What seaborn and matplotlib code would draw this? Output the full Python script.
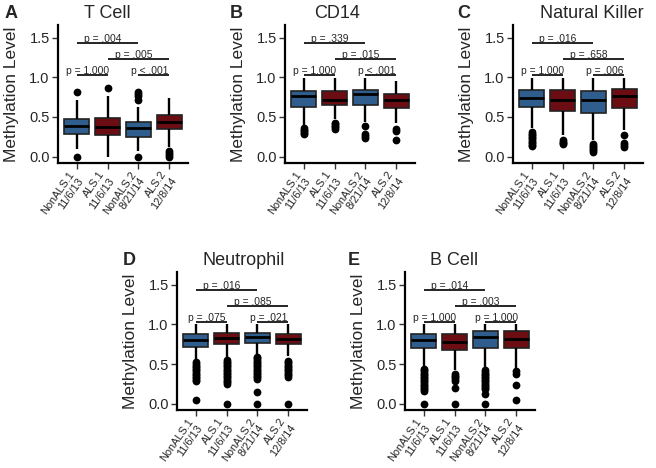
import numpy as np
import pandas as pd
import matplotlib
matplotlib.use("Agg")
import matplotlib.pyplot as plt
import seaborn as sns

# ---------------- data ----------------
groups = ["NonALS.1\n11/6/13", "ALS.1\n11/6/13", "NonALS.2\n8/21/14", "ALS.2\n12/8/14"]
group_colors = ["#2F5E8E", "#6B0D12", "#2F5E8E", "#6B0D12"]
yticks = [0.0, 0.5, 1.0, 1.5]
ytick_labels = ["0.0", "0.5", "1.0", "1.5"]

# five-number summaries per group: [whisker low, Q1, median, Q3, whisker high]
tcell_stats = [[0.10, 0.285, 0.385, 0.47, 0.72],
               [0.00, 0.27, 0.38, 0.49, 0.76],
               [0.07, 0.25, 0.355, 0.435, 0.63],
               [0.12, 0.345, 0.44, 0.52, 0.74]]
tcell_out = [[0.82, 0.0],
             [0.87],
             [0.82, 0.79, 0.76, 0.72, 0.0],
             [0.07, 0.045, 0.02, 0.0]]
tcell_p = ["p = .004", "p = .005", "p = 1.000", "p < .001"]

cd14_stats = [[0.40, 0.63, 0.76, 0.83, 0.99],
              [0.48, 0.65, 0.72, 0.825, 0.99],
              [0.44, 0.65, 0.79, 0.845, 0.99],
              [0.42, 0.61, 0.71, 0.79, 0.955]]
cd14_out = [[0.36, 0.34, 0.32, 0.30, 0.28],
            [0.43, 0.41, 0.39, 0.37, 0.35],
            [0.39, 0.29, 0.26, 0.23],
            [0.35, 0.32, 0.21]]
cd14_p = ["p = .339", "p = .015", "p = 1.000", "p < .001"]

nk_stats = [[0.355, 0.62, 0.745, 0.84, 0.99],
            [0.27, 0.58, 0.71, 0.84, 0.99],
            [0.21, 0.555, 0.71, 0.825, 0.99],
            [0.335, 0.615, 0.76, 0.85, 0.99]]
nk_out = [[0.31, 0.29, 0.27, 0.25, 0.23, 0.21, 0.19, 0.17, 0.15, 0.13],
          [0.21, 0.19, 0.17, 0.155],
          [0.16, 0.14, 0.12, 0.10, 0.08, 0.06],
          [0.27, 0.17, 0.15, 0.12]]
nk_p = ["p = .016", "p = .658", "p = 1.000", "p = .006"]

neut_stats = [[0.545, 0.72, 0.805, 0.88, 1.0],
              [0.585, 0.755, 0.825, 0.89, 1.0],
              [0.63, 0.76, 0.84, 0.89, 1.0],
              [0.595, 0.75, 0.815, 0.88, 1.0]]
neut_out = [[0.52, 0.50, 0.48, 0.46, 0.44, 0.42, 0.40, 0.38, 0.36, 0.34, 0.32, 0.30, 0.28, 0.04],
            [0.55, 0.53, 0.51, 0.49, 0.47, 0.45, 0.43, 0.41, 0.39, 0.37, 0.35, 0.33, 0.31, 0.29, 0.27, 0.25, 0.0],
            [0.59, 0.57, 0.55, 0.53, 0.51, 0.49, 0.47, 0.45, 0.43, 0.41, 0.39, 0.37, 0.35, 0.33, 0.31, 0.145, 0.0],
            [0.54, 0.52, 0.50, 0.48, 0.46, 0.44, 0.42, 0.40, 0.38, 0.36, 0.34, 0.0]]
neut_p = ["p = .016", "p = .085", "p = .075", "p = .021"]

bcell_stats = [[0.48, 0.70, 0.805, 0.88, 1.0],
               [0.42, 0.68, 0.775, 0.88, 1.0],
               [0.46, 0.70, 0.84, 0.91, 1.0],
               [0.45, 0.70, 0.815, 0.915, 1.0]]
bcell_out = [[0.44, 0.42, 0.40, 0.38, 0.36, 0.34, 0.32, 0.30, 0.28, 0.26, 0.24, 0.22, 0.20, 0.18, 0.16, 0.0],
             [0.37, 0.35, 0.33, 0.31, 0.29, 0.20, 0.0],
             [0.42, 0.40, 0.38, 0.36, 0.34, 0.32, 0.30, 0.28, 0.26, 0.24, 0.22, 0.20, 0.18, 0.125, 0.0],
             [0.41, 0.38, 0.24, 0.05]]
bcell_p = ["p = .014", "p = .003", "p = 1.000", "p = 1.000"]

# comparisons: (group i, group j, bracket level)
comparisons = [(0, 2, 1.43), (1, 3, 1.23), (0, 1, 1.03), (2, 3, 1.03)]

# ---------------- style ----------------
sns.set_style("ticks")
plt.rcParams["font.family"] = ["Liberation Sans", "DejaVu Sans"]

W, H = 656, 468
fig = plt.figure(figsize=(W / 100, H / 100), dpi=100)


def rect(l, t, w, h):
    return [l / W, 1 - (t + h) / H, w / W, h / H]


panels = [
    dict(letter="A", title="T Cell", stats=tcell_stats, out=tcell_out, p=tcell_p,
         box=(58, 25), lx=5, tx=107, base=18),
    dict(letter="B", title="CD14", stats=cd14_stats, out=cd14_out, p=cd14_p,
         box=(285, 25), lx=230, tx=337, base=18),
    dict(letter="C", title="Natural Killer", stats=nk_stats, out=nk_out, p=nk_p,
         box=(513, 25), lx=457, tx=592, base=18),
    dict(letter="D", title="Neutrophil", stats=neut_stats, out=neut_out, p=neut_p,
         box=(177, 272), lx=123, tx=244, base=265),
    dict(letter="E", title="B Cell", stats=bcell_stats, out=bcell_out, p=bcell_p,
         box=(405, 272), lx=348, tx=454, base=265),
]

for pn in panels:
    ax = fig.add_axes(rect(pn["box"][0], pn["box"][1], 130, 138))
    box_df = pd.DataFrame({
        "group": np.repeat(groups, 5),
        "value": np.concatenate([np.asarray(s, float) for s in pn["stats"]]),
    })
    out_df = pd.DataFrame({
        "group": np.concatenate([[g] * len(o) for g, o in zip(groups, pn["out"])]),
        "value": np.concatenate([np.asarray(o, float) for o in pn["out"]]),
    })
    sns.boxplot(data=box_df, x="group", y="value", hue="group", order=groups,
                hue_order=groups, palette=group_colors, saturation=1,
                whis=(0, 100), showfliers=False, showcaps=False, width=0.8,
                linecolor="#222222", linewidth=1.2, legend=False, ax=ax,
                medianprops=dict(color="black", linewidth=2.0),
                whiskerprops=dict(color="black", linewidth=1.7))
    sns.stripplot(data=out_df, x="group", y="value", order=groups, jitter=False,
                  color="black", size=5.6, linewidth=0, ax=ax, zorder=5)

    for (i, j, lev), txt in zip(comparisons, pn["p"]):
        ax.plot([i, j], [lev, lev], color="black", lw=1.2, solid_capstyle="butt",
                clip_on=False)
        ax.text((i + j) / 2 - 0.15, lev + 0.015, txt, ha="center", va="baseline",
                fontsize=7.4)

    ax.set_xlim(-0.6, 3.6)
    ax.set_ylim(-0.08, 1.66)
    ax.set_yticks(yticks)
    ax.set_yticklabels(ytick_labels, fontsize=10.5)
    ax.set_xticks(range(len(groups)))
    ax.set_xticklabels(groups, rotation=55, ha="right", va="center",
                       rotation_mode="anchor", fontsize=7.8, multialignment="right")
    ax.tick_params(axis="both", length=4, width=1.0, color="#333333", pad=2)
    ax.tick_params(axis="x", pad=5)
    ax.set_xlabel("")
    ax.set_ylabel("Methylation Level", fontsize=12.5)
    ax.yaxis.set_label_coords(-0.30, 0.5)
    sns.despine(ax=ax)
    for s in ("left", "bottom"):
        ax.spines[s].set_linewidth(1.6)
        ax.spines[s].set_color("black")

    fig.text(pn["lx"] / W, 1 - pn["base"] / H, pn["letter"], fontsize=13,
             fontweight="bold", ha="left", va="baseline")
    fig.text(pn["tx"] / W, 1 - pn["base"] / H, pn["title"], fontsize=13,
             ha="center", va="baseline")

fig.savefig("out.png", dpi=100)
